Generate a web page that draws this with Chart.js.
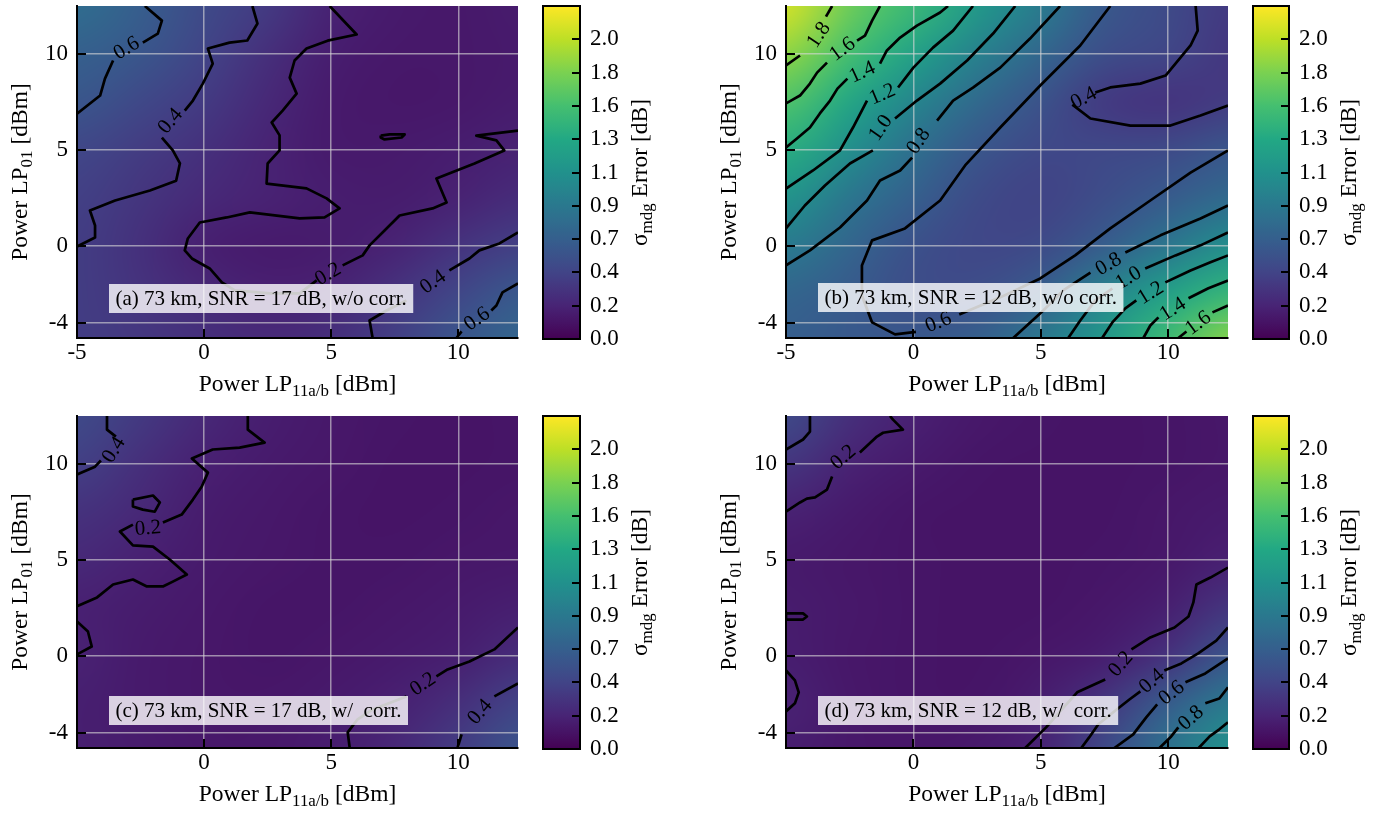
<!DOCTYPE html>
<html><head><meta charset="utf-8"><title>σmdg error maps</title>
<script src="https://cdn.jsdelivr.net/npm/chart.js@4.4.1/dist/chart.umd.min.js"></script>
<style>
html,body{margin:0;padding:0;background:#fff;}
body{width:1387px;height:813px;position:relative;overflow:hidden;}
canvas{position:absolute;}
</style></head><body>
<canvas id="pa" width="530" height="405" style="left:0px;top:0px;width:530px;height:405px"></canvas>
<canvas id="ca" width="150" height="360" style="left:535px;top:0px;width:150px;height:360px"></canvas>
<canvas id="pb" width="530" height="405" style="left:705px;top:0px;width:530px;height:405px"></canvas>
<canvas id="cb" width="142" height="360" style="left:1245px;top:0px;width:142px;height:360px"></canvas>
<canvas id="pc" width="530" height="403" style="left:0px;top:410px;width:530px;height:403px"></canvas>
<canvas id="cc" width="150" height="360" style="left:535px;top:410px;width:150px;height:360px"></canvas>
<canvas id="pd" width="530" height="403" style="left:705px;top:410px;width:530px;height:403px"></canvas>
<canvas id="cd" width="142" height="360" style="left:1245px;top:410px;width:142px;height:360px"></canvas>
<script>
// ---------------- DATA ----------------
const X_MIN = -5, X_MAX = 12.35, Y_MIN = -4.77, Y_MAX = 12.47;
const X_TICKS_TOP = [-5, 0, 5, 10];
const X_TICKS_BOTTOM = [0, 5, 10];
const Y_TICKS = [-4, 0, 5, 10];
const VMAX = 2.235;
const CB_TICKS = [0, 0.2235, 0.447, 0.6705, 0.894, 1.1175, 1.341, 1.5645, 1.788, 2.0115];
const CB_LABELS = ['0.0','0.2','0.4','0.7','0.9','1.1','1.3','1.6','1.8','2.0'];

// grid nodes of the error maps
const X_NODES = [-5, -2.5, 0, 2.5, 5, 7.5, 10, 12.5];
const Y_NODES = [-5, -2.5, 0, 2.5, 5, 7.5, 10, 12.5];
// rows follow Y_NODES (ascending), columns follow X_NODES
const Z_A = [
  [0.40, 0.36, 0.31, 0.27, 0.31, 0.42, 0.60, 0.74],
  [0.40, 0.33, 0.25, 0.20, 0.22, 0.33, 0.47, 0.62],
  [0.40, 0.31, 0.19, 0.16, 0.17, 0.22, 0.33, 0.42],
  [0.42, 0.34, 0.26, 0.21, 0.18, 0.17, 0.21, 0.28],
  [0.47, 0.39, 0.31, 0.22, 0.16, 0.16, 0.18, 0.21],
  [0.60, 0.48, 0.38, 0.25, 0.16, 0.14, 0.15, 0.17],
  [0.68, 0.60, 0.45, 0.30, 0.18, 0.15, 0.15, 0.16],
  [0.80, 0.66, 0.50, 0.38, 0.21, 0.16, 0.15, 0.17]
];
const Z_B = [
  [0.66, 0.62, 0.61, 0.68, 0.90, 1.20, 1.54, 1.85],
  [0.72, 0.63, 0.52, 0.53, 0.66, 1.00, 1.27, 1.48],
  [0.91, 0.72, 0.55, 0.47, 0.50, 0.65, 0.88, 1.10],
  [1.15, 0.87, 0.67, 0.50, 0.44, 0.52, 0.64, 0.77],
  [1.39, 1.09, 0.81, 0.60, 0.48, 0.48, 0.50, 0.60],
  [1.61, 1.31, 1.01, 0.76, 0.56, 0.37, 0.33, 0.39],
  [1.86, 1.55, 1.27, 0.97, 0.73, 0.52, 0.46, 0.35],
  [2.10, 1.73, 1.50, 1.20, 0.92, 0.61, 0.50, 0.37]
];
const Z_C = [
  [0.19, 0.17, 0.15, 0.15, 0.18, 0.25, 0.40, 0.60],
  [0.19, 0.16, 0.14, 0.14, 0.16, 0.20, 0.30, 0.45],
  [0.21, 0.16, 0.14, 0.13, 0.14, 0.16, 0.19, 0.28],
  [0.20, 0.17, 0.15, 0.13, 0.13, 0.14, 0.16, 0.19],
  [0.26, 0.20, 0.16, 0.14, 0.13, 0.13, 0.14, 0.15],
  [0.32, 0.25, 0.17, 0.15, 0.13, 0.12, 0.13, 0.14],
  [0.42, 0.30, 0.20, 0.16, 0.14, 0.12, 0.12, 0.13],
  [0.50, 0.37, 0.25, 0.18, 0.15, 0.13, 0.12, 0.13]
];
const Z_D = [
  [0.18, 0.15, 0.14, 0.16, 0.22, 0.50, 0.85, 1.15],
  [0.21, 0.15, 0.13, 0.13, 0.18, 0.35, 0.65, 0.92],
  [0.18, 0.14, 0.13, 0.12, 0.14, 0.18, 0.32, 0.60],
  [0.17, 0.15, 0.13, 0.12, 0.12, 0.14, 0.19, 0.35],
  [0.16, 0.14, 0.13, 0.12, 0.12, 0.13, 0.15, 0.20],
  [0.21, 0.16, 0.13, 0.12, 0.12, 0.12, 0.14, 0.16],
  [0.35, 0.21, 0.16, 0.13, 0.12, 0.12, 0.13, 0.14],
  [0.50, 0.30, 0.20, 0.15, 0.13, 0.12, 0.13, 0.14]
];

// contour lines (data coordinates); a label sits in the gap between two segments
const CONTOURS_A = [
  {level:'0.6', at:[-3.07,10.31], segs:[
    [[-2.33,12.47],[-1.66,11.71],[-1.82,11.04],[-2.41,10.57]],
    [[-3.58,9.64],[-3.9,8.7],[-4.09,7.82],[-5,6.88]]]},
  {level:'0.4', at:[-1.35,6.52], segs:[
    [[1.9,12.47],[2.1,11.56],[1.7,10.68],[1.0,10.57],[0.15,10.26],[0.34,9.48],[-0.05,8.44],[-0.44,7.56],[-0.76,7.04]],
    [[-1.66,5.64],[-1.23,4.97],[-0.95,4.3],[-1.1,3.4],[-2.13,2.89],[-3.5,2.37],[-4.49,1.85],[-4.29,1.07],[-4.29,0.45],[-5,-0.02]]]},
  {level:'0.2', at:[4.86,-1.42], segs:[
    [[4.94,12.47],[6.0,10.99],[4.86,10.67],[4.03,10.26],[3.56,9.64],[3.37,8.75],[3.64,7.92],[3.09,7.04],[2.66,6.42],[2.97,5.75],[2.97,4.97],[2.5,4.29],[2.46,3.25],[4.03,3.0],[4.82,2.48],[5.33,1.96],[4.74,1.49],[3.76,1.44],[1.8,1.75],[0.89,1.49],[-0.17,1.23],[-0.64,0.4],[-0.76,-0.22],[-0.48,-0.64],[0.22,-1.16],[0.7,-1.88],[1.21,-2.3],[2.58,-2.45],[3.76,-2.45],[4.43,-1.78]],
    [[5.45,-1.0],[6.24,-0.48],[6.51,0.04],[7.1,0.81],[7.69,1.59],[8.99,1.96],[9.54,2.27],[9.14,3.51],[10.64,4.29],[11.81,4.97],[11.5,5.49],[10.71,5.74],[12.35,6.0]]]},
  {closed:true, segs:[[[6.95,5.74],[7.3,5.8],[7.89,5.8],[7.77,5.64],[7.1,5.54],[6.95,5.64]]]},
  {level:'0.4', at:[8.99,-1.83], segs:[
    [[6.63,-4.77],[6.51,-3.86],[7.18,-3.34],[7.96,-2.82]],
    [[9.65,-1.26],[10.44,-0.64],[10.83,-0.22],[11.62,0.14],[12.35,0.71]]]},
  {level:'0.6', at:[10.72,-3.75], segs:[
    [[9.93,-4.77],[10.13,-4.43]],
    [[11.3,-3.34],[11.5,-3.08],[11.74,-2.4],[12.35,-1.94]]]}
];
const CONTOURS_B = [
  {level:'1.8', at:[-3.74,10.99], segs:[
    [[-5,9.38],[-4.45,9.9]],
    [[-3.43,11.92],[-3.19,12.47]]]},
  {level:'1.6', at:[-2.8,10.26], segs:[
    [[-5,7.41],[-4.45,7.82],[-4.06,8.44],[-3.78,9.01],[-3.39,9.53]],
    [[-2.21,10.67],[-1.9,10.93],[-1.62,11.71],[-1.31,12.47]]]},
  {level:'1.4', at:[-2.02,9.07], segs:[
    [[-5,5.12],[-4.57,5.59],[-4.06,6.16],[-3.67,6.89],[-3.27,7.56],[-2.98,8.18],[-2.59,8.7]],
    [[-1.31,9.48],[-1.04,10.16],[-0.52,10.83],[0.14,11.45],[1.05,12.13],[1.36,12.47]]]},
  {level:'1.2', at:[-1.23,7.92], segs:[
    [[-5,2.99],[-3.94,3.93],[-2.88,4.97],[-2.37,6.16],[-1.82,7.56]],
    [[-0.6,8.24],[0,9.27],[0.77,10.31],[1.56,11.19],[2.34,12.47]]]},
  {level:'1.0', at:[-1.31,6.16], segs:[
    [[-5,0.92],[-4.26,2.11],[-3.47,3.15],[-2.49,4.29],[-1.59,4.97]],
    [[-0.72,6.63],[0.14,7.56],[1.05,8.44],[2.11,9.64],[3.13,11.04],[4.0,12.47]]]},
  {level:'0.8', at:[0.18,5.48], segs:[
    [[-5,-1.0],[-4.06,-0.22],[-2.88,0.97],[-1.82,2.37],[-1.31,3.41],[-0.52,3.93],[-0.05,4.6]],
    [[0.93,6.52],[1.56,7.56],[2.34,8.23],[3.41,9.27],[4.58,10.78],[5.76,12.47]]]},
  {level:'0.4', at:[6.67,7.72], segs:[
    [[11.08,12.47],[11.16,11.19],[10.88,10.42],[9.9,8.86],[8.91,8.44],[7.73,8.24],[7.14,7.98]],
    [[6.24,7.35],[6.95,6.63],[8.52,6.26],[10.09,6.26],[11.27,6.78],[12.35,7.3]]]},
  {level:'0.6', at:[0.97,-3.92], segs:[
    [[7.73,12.47],[6.55,10.42],[4.98,8.34],[3.41,6.16],[2.03,4.19],[1.05,2.37],[-0.33,0.92],[-1.62,0.3],[-2.02,-1.0],[-2.02,-2.56],[-1.62,-3.96],[-0.72,-4.58],[0.1,-4.45]],
    [[1.8,-3.55],[3.41,-2.66],[4.98,-1.68],[6.35,-0.48],[7.73,0.92],[9.3,2.37],[10.88,3.82],[12.35,4.97]]]},
  {level:'0.8', at:[7.65,-0.9], segs:[
    [[3.92,-4.77],[5.1,-3.34],[5.88,-2.3],[6.95,-1.37]],
    [[8.32,-0.33],[9.7,0.56],[11.27,1.44],[12.35,2.11]]]},
  {level:'1.0', at:[8.43,-1.62], segs:[
    [[6.08,-4.77],[6.55,-3.86],[7.14,-2.82],[7.81,-2.2]],
    [[9.1,-1.16],[10.29,-0.48],[11.27,0.04],[12.35,0.71]]]},
  {level:'1.2', at:[9.3,-2.4], segs:[
    [[7.41,-4.77],[7.81,-3.96],[8.32,-3.23],[8.75,-2.82]],
    [[9.89,-1.88],[10.88,-1.26],[11.66,-0.84],[12.35,-0.48]]]},
  {level:'1.4', at:[10.17,-3.23], segs:[
    [[9.03,-4.77],[9.3,-4.12],[9.62,-3.7]],
    [[10.8,-2.71],[11.58,-2.19],[12.35,-1.78]]]},
  {level:'1.6', at:[11.16,-3.96], segs:[
    [[10.4,-4.77],[10.72,-4.43]],
    [[11.74,-3.44],[12.35,-3.08]]]}
];
const CONTOURS_C = [
  {level:'0.4', at:[-3.58,10.73], segs:[
    [[-3.82,12.47],[-3.82,11.76],[-3.47,11.4]],
    [[-4.06,10.16],[-4.29,9.84],[-5,9.43]]]},
  {level:'0.2', at:[-2.21,6.68], segs:[
    [[1.72,12.47],[1.72,11.76],[2.38,11.09],[1.4,10.83],[0.34,10.73],[-0.48,10.26],[0.15,9.53],[-0.09,8.81],[-0.44,8.13],[-0.88,7.35],[-1.62,6.94]],
    [[-2.8,6.83],[-3.31,6.47],[-2.8,5.75],[-2.01,5.69],[-1.35,5.02],[-0.68,4.24],[-1.23,3.87],[-1.62,3.62],[-2.25,3.62],[-2.8,3.98],[-3.58,3.72],[-4.21,3.05],[-5,2.59]]]},
  {closed:true, segs:[[[-2.8,8.13],[-2.01,8.34],[-1.74,7.98],[-1.94,7.5],[-2.41,7.61],[-2.8,7.77]]]},
  {segs:[[[-5,1.8],[-4.57,1.28],[-4.42,0.5],[-5,0.09]]]},
  {level:'0.2', at:[8.59,-1.42], segs:[
    [[5.73,-4.77],[5.65,-3.96],[6.04,-3.28],[6.63,-2.77],[7.96,-2.09]],
    [[9.14,-1.05],[9.58,-0.69],[10.44,-0.28],[11.42,0.35],[12.35,1.49]]]},
  {level:'0.4', at:[10.83,-2.87], segs:[
    [[9.97,-4.77],[10.13,-4.06]],
    [[11.42,-2.09],[12.35,-1.42]]]}
];
const CONTOURS_D = [
  {segs:[[[-4.06,12.47],[-4.06,11.66],[-4.33,11.25],[-5,10.73]]]},
  {level:'0.2', at:[-2.77,10.36], segs:[
    [[-5,7.51],[-4.45,7.98],[-4.18,8.18],[-3.86,8.24],[-3.39,8.65],[-3.19,9.33]],
    [[-2.1,10.57],[-1.43,11.4],[-1.19,11.6],[-0.41,11.76],[-0.8,12.28],[-0.92,12.47]]]},
  {closed:true, segs:[[[-5,2.22],[-4.33,2.22],[-4.18,2.06],[-4.33,1.9],[-5,1.9]]]},
  {segs:[[[-5,-0.74],[-4.65,-1.26],[-4.5,-1.88],[-4.65,-2.45],[-5,-2.87]]]},
  {level:'0.2', at:[8.12,-0.38], segs:[
    [[4.39,-4.77],[5.21,-3.7],[5.76,-2.87],[6.43,-1.88],[7.53,-1.21]],
    [[8.56,0.35],[9.3,0.97],[10.25,1.49],[10.8,2.06],[10.99,2.79],[11.11,3.72],[11.66,4.08],[12.35,4.6]]]},
  {level:'0.4', at:[9.34,-1.26], segs:[
    [[6.59,-4.77],[6.9,-4.22],[7.26,-3.54],[7.93,-2.82],[8.48,-2.25],[8.91,-1.83]],
    [[9.85,-0.74],[10.52,-0.38],[11.18,0.14],[11.89,0.81],[12.35,1.49]]]},
  {level:'0.6', at:[10.12,-1.88], segs:[
    [[7.89,-4.77],[8.63,-4.06],[9.14,-3.18],[9.57,-2.51]],
    [[10.68,-1.36],[11.46,-0.9],[12.35,-0.12]]]},
  {level:'0.8', at:[10.88,-3.18], segs:[
    [[9.66,-4.77],[10.12,-4.17],[10.4,-3.7]],
    [[11.46,-2.45],[12.01,-2.2],[12.35,-1.62]]]},
  {segs:[[[11.2,-4.77],[11.63,-4.17],[12.01,-3.8],[12.35,-3.44]]]}
];

const NOTE_A = '(a) 73 km, SNR = 17 dB, w/o corr.';
const NOTE_B = '(b) 73 km, SNR = 12 dB, w/o corr.';
const NOTE_C = '(c) 73 km, SNR = 17 dB, w/  corr.';
const NOTE_D = '(d) 73 km, SNR = 12 dB, w/  corr.';
const X_TITLE = [['Power LP',0],['11a/b',1],[' [dBm]',0]];
const Y_TITLE = [['Power LP',0],['01',1],[' [dBm]',0]];
const CB_TITLE = [['σ',0],['mdg',1],[' Error [dB]',0]];

// ---------------- STYLE / RENDERING ----------------
const FONT = '"Liberation Serif", "Times New Roman", serif';
Chart.defaults.font.family = FONT;
Chart.defaults.color = '#000';
const GRID_COLOR = 'rgba(215,215,215,0.62)';
const VIRIDIS = [[68,1,84],[72,36,117],[65,68,135],[53,95,141],[42,120,142],[33,145,140],[34,168,132],[68,191,112],[122,209,81],[189,223,38],[253,231,37]];
function viridis(t){
  t = Math.max(0, Math.min(1, t));
  const f = t*10, i = Math.min(9, Math.floor(f)), r = f - i;
  const a = VIRIDIS[i], b = VIRIDIS[i+1];
  return a.map((v,k)=>Math.round(v + (b[k]-v)*r));
}
function drawRich(ctx, parts, cx, baseY, size){
  const sub = size*0.72, dy = size*0.2;
  let w = 0;
  const ws = parts.map(([t,s])=>{ctx.font = (s?sub:size)+'px '+FONT; const m = ctx.measureText(t).width; w += m; return m;});
  let x = cx - w/2;
  ctx.textAlign = 'left'; ctx.textBaseline = 'alphabetic';
  parts.forEach(([t,s],i)=>{ctx.font = (s?sub:size)+'px '+FONT; ctx.fillText(t, x, baseY + (s?dy:0)); x += ws[i];});
}
function noPad(s){ s.paddingTop = 0; s.paddingBottom = 0; s.paddingLeft = 0; s.paddingRight = 0; }

const heatmapPlugin = {
  id:'heatmap',
  beforeDraw(chart, args, opts){
    const z = opts.z; if(!z) return;
    const nx = X_NODES.length, ny = Y_NODES.length;
    const off = document.createElement('canvas'); off.width = nx; off.height = ny;
    const octx = off.getContext('2d'); const img = octx.createImageData(nx, ny);
    for(let j=0;j<ny;j++) for(let i=0;i<nx;i++){
      const c = viridis(z[ny-1-j][i]/VMAX); const k = (j*nx+i)*4;
      img.data[k]=c[0]; img.data[k+1]=c[1]; img.data[k+2]=c[2]; img.data[k+3]=255;
    }
    octx.putImageData(img,0,0);
    const xs = chart.scales.x, ys = chart.scales.y, a = chart.chartArea;
    const dx = X_NODES[1]-X_NODES[0], dy = Y_NODES[1]-Y_NODES[0];
    const l = xs.getPixelForValue(X_NODES[0]-dx/2), r = xs.getPixelForValue(X_NODES[nx-1]+dx/2);
    const t = ys.getPixelForValue(Y_NODES[ny-1]+dy/2), b = ys.getPixelForValue(Y_NODES[0]-dy/2);
    const ctx = chart.ctx;
    ctx.save(); ctx.beginPath(); ctx.rect(a.left, a.top, a.right-a.left, a.bottom-a.top); ctx.clip();
    ctx.imageSmoothingEnabled = true; ctx.imageSmoothingQuality = 'high';
    ctx.drawImage(off, l, t, r-l, b-t);
    ctx.restore();
  }
};

const decorPlugin = {
  id:'decor',
  afterDatasetsDraw(chart, args, o){
    const ctx = chart.ctx, xs = chart.scales.x, ys = chart.scales.y;
    ctx.save();
    ctx.fillStyle = '#000';
    ctx.font = '21px '+FONT; ctx.textAlign='center'; ctx.textBaseline='middle';
    (o.contours||[]).forEach(c=>{
      if(!c.level || c.segs.length < 2) return;
      const p = c.segs[0][c.segs[0].length-1], q = c.segs[1][0];
      let ang = Math.atan2(ys.getPixelForValue(q[1])-ys.getPixelForValue(p[1]), xs.getPixelForValue(q[0])-xs.getPixelForValue(p[0]));
      if(ang > Math.PI/2) ang -= Math.PI; if(ang < -Math.PI/2) ang += Math.PI;
      ctx.save();
      ctx.translate(xs.getPixelForValue(c.at[0]), ys.getPixelForValue(c.at[1]));
      ctx.rotate(ang);
      ctx.fillText(c.level, 0, 1);
      ctx.restore();
    });
    ctx.restore();
  },
  afterDraw(chart, args, o){
    const ctx = chart.ctx, a = chart.chartArea, xs = chart.scales.x, ys = chart.scales.y;
    ctx.save();
    // annotation box
    ctx.font = '21px '+FONT;
    const tw = ctx.measureText(o.note).width;
    const bx = a.left + 32, by = a.top + o.noteTop, bh = 29;
    ctx.fillStyle = 'rgba(255,255,255,0.8)';
    ctx.fillRect(bx, by, tw + 13, bh);
    ctx.fillStyle = '#000'; ctx.textAlign='left'; ctx.textBaseline='alphabetic';
    ctx.fillText(o.note, bx + 6.5, by + 21);
    // inward ticks
    ctx.strokeStyle = '#000'; ctx.lineWidth = 2;
    ctx.beginPath();
    xs.ticks.forEach(t=>{const p = Math.round(xs.getPixelForValue(t.value)); ctx.moveTo(p, a.bottom); ctx.lineTo(p, a.bottom-9);});
    ys.ticks.forEach(t=>{const p = Math.round(ys.getPixelForValue(t.value)); ctx.moveTo(a.left, p); ctx.lineTo(a.left+9, p);});
    ctx.stroke();
    // axis titles
    ctx.fillStyle = '#000';
    drawRich(ctx, X_TITLE, (a.left+a.right)/2, a.bottom + 53, 23.5);
    ctx.save();
    ctx.translate(a.left - 50, (a.top+a.bottom)/2);
    ctx.rotate(-Math.PI/2);
    drawRich(ctx, Y_TITLE, 0, 0, 23.5);
    ctx.restore();
    ctx.restore();
  }
};

const cbPlugin = {
  id:'cbar',
  beforeDatasetsDraw(chart){
    const ctx = chart.ctx, a = chart.chartArea, ys = chart.scales.y;
    const g = ctx.createLinearGradient(0, ys.getPixelForValue(0), 0, ys.getPixelForValue(VMAX));
    for(let i=0;i<=40;i++){ const c = viridis(i/40); g.addColorStop(i/40, 'rgb('+c.join(',')+')'); }
    ctx.save(); ctx.fillStyle = g; ctx.fillRect(a.left, a.top, a.right-a.left, a.bottom-a.top); ctx.restore();
  },
  afterDraw(chart){
    const ctx = chart.ctx, a = chart.chartArea, ys = chart.scales.y;
    ctx.save();
    ctx.strokeStyle = '#000'; ctx.lineWidth = 2;
    ctx.strokeRect(a.left, a.top, a.right-a.left, a.bottom-a.top);
    ctx.beginPath();
    ys.ticks.forEach(t=>{const p = Math.round(ys.getPixelForValue(t.value)); ctx.moveTo(a.right, p); ctx.lineTo(a.right-8, p);});
    ctx.stroke();
    ctx.fillStyle = '#000';
    ctx.translate(a.right + 67, (a.top+a.bottom)/2);
    ctx.rotate(-Math.PI/2);
    drawRich(ctx, CB_TITLE, 0, 0, 23.5);
    ctx.restore();
  }
};

function contourDatasets(list){
  const ds = [];
  list.forEach(c=>c.segs.forEach(s=>{
    const pts = s.map(p=>({x:p[0], y:p[1]}));
    if(c.closed) pts.push({x:s[0][0], y:s[0][1]});
    ds.push({data:pts, showLine:true, pointRadius:0, borderColor:'#000', borderWidth:2.7, borderJoinStyle:'round', borderCapStyle:'butt', fill:false, tension:0});
  }));
  return ds;
}

function panel(id, z, contours, xTicks, note, yWidth, pad, noteTop){
  return new Chart(document.getElementById(id), {
    type:'scatter',
    data:{datasets: contourDatasets(contours)},
    options:{
      responsive:false, animation:false, events:[],
      layout:{padding:pad},
      plugins:{legend:{display:false}, tooltip:{enabled:false},
        heatmap:{z:z}, decor:{contours:contours, note:note, noteTop:noteTop}},
      scales:{
        x:{type:'linear', min:X_MIN, max:X_MAX, bounds:'data',
          afterBuildTicks:s=>{s.ticks = xTicks.map(v=>({value:v}));},
          afterFit:s=>{s.height = 45; noPad(s);},
          ticks:{color:'#000', font:{size:23}, padding:1, maxRotation:0, autoSkip:false, callback:v=>String(v)},
          grid:{color:GRID_COLOR, lineWidth:1.5, drawTicks:false},
          border:{display:true, color:'#000', width:2}},
        y:{type:'linear', min:Y_MIN, max:Y_MAX, bounds:'data',
          afterBuildTicks:s=>{s.ticks = Y_TICKS.map(v=>({value:v}));},
          afterFit:s=>{s.width = yWidth; noPad(s);},
          ticks:{color:'#000', font:{size:23}, padding:9, autoSkip:false, callback:v=>String(v)},
          grid:{color:GRID_COLOR, lineWidth:1.5, drawTicks:false},
          border:{display:true, color:'#000', width:2}}
      }
    },
    plugins:[heatmapPlugin, decorPlugin]
  });
}

function colorbar(id, axisWidth, pad){
  return new Chart(document.getElementById(id), {
    type:'scatter',
    data:{datasets:[]},
    options:{
      responsive:false, animation:false, events:[],
      layout:{padding:pad},
      plugins:{legend:{display:false}, tooltip:{enabled:false}},
      scales:{
        x:{display:false, min:0, max:1},
        y:{position:'right', min:0, max:VMAX, bounds:'data',
          afterBuildTicks:s=>{s.ticks = CB_TICKS.map(v=>({value:v}));},
          afterFit:s=>{s.width = axisWidth; noPad(s);},
          ticks:{color:'#000', font:{size:23}, padding:10, autoSkip:false, callback:(v,i)=>CB_LABELS[i]},
          grid:{display:false, drawTicks:false},
          border:{display:false}}
      }
    },
    plugins:[cbPlugin]
  });
}

panel('pa', Z_A, CONTOURS_A, X_TICKS_TOP, NOTE_A, 77, {left:0, top:6, right:12, bottom:22}, 278);
panel('pb', Z_B, CONTOURS_B, X_TICKS_TOP, NOTE_B, 81, {left:0, top:6, right:7, bottom:22}, 277);
panel('pc', Z_C, CONTOURS_C, X_TICKS_BOTTOM, NOTE_C, 77, {left:0, top:6, right:12, bottom:20}, 280);
panel('pd', Z_D, CONTOURS_D, X_TICKS_BOTTOM, NOTE_D, 81, {left:0, top:6, right:7, bottom:20}, 280);
colorbar('ca', 105, {left:8, top:6, right:0, bottom:21});
colorbar('cb', 98, {left:8, top:6, right:0, bottom:21});
colorbar('cc', 105, {left:8, top:6, right:0, bottom:21});
colorbar('cd', 98, {left:8, top:6, right:0, bottom:21});
</script>
</body></html>
